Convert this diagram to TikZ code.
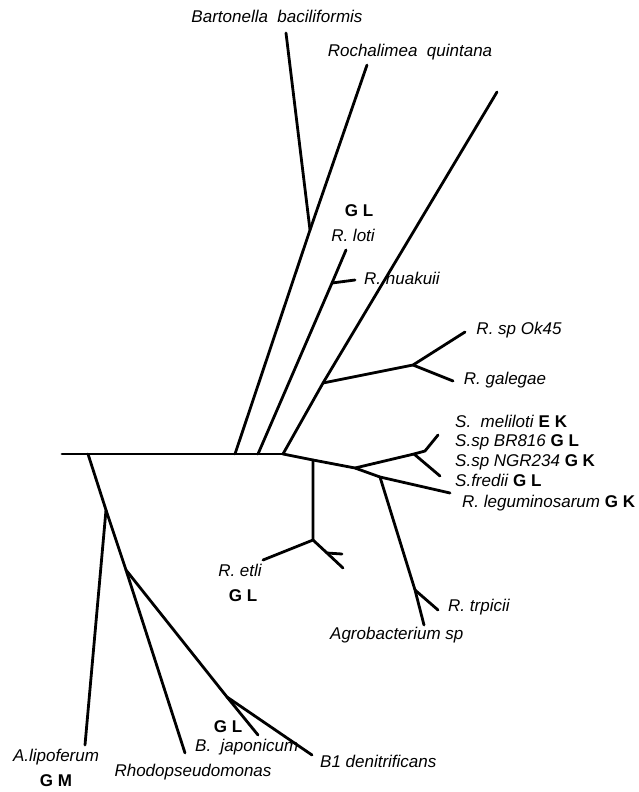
\documentclass[tikz,border=0pt]{standalone}
\usepackage{fontspec}
\setmainfont{Liberation Sans}
\begin{document}
\begin{tikzpicture}[x=1pt,y=-1pt,
  branch/.style={line width=2.8pt,line cap=round,line join=round},
  taxon/.style={font=\fontsize{17}{20}\selectfont\itshape,inner sep=0pt,anchor=mid,yshift=-1.5pt},
  taxonw/.style={taxon,anchor=mid west},
  gene/.style={font=\fontsize{17}{20}\selectfont\bfseries,inner sep=0pt,anchor=mid,yshift=-1.5pt}]
\useasboundingbox (0,0) rectangle (639,792);
\newcommand{\gn}[1]{\textup{\bfseries #1}}

% root axis
\coordinate (r0) at (62,454);
\coordinate (r1) at (88,454);
\coordinate (u1) at (235,454);
\coordinate (u2) at (258,454);
\coordinate (u3) at (283,454);

% lower left clade
\coordinate (n1) at (106,510);
\coordinate (alip) at (85,745);
\coordinate (n2) at (126,570);
\coordinate (rhodo) at (185,753);
\coordinate (n3) at (227,697);
\coordinate (bjap) at (258,735);
\coordinate (b1) at (312,755);

% upper clades
\coordinate (nb) at (310,230);
\coordinate (bart) at (286,33);
\coordinate (roch) at (367,65);
\coordinate (loti) at (346,250);
\coordinate (nh) at (332,283);
\coordinate (huak) at (355,280);
\coordinate (top) at (497,92);
\coordinate (ng) at (323,383);
\coordinate (ngal) at (413,365);
\coordinate (ok) at (465,332);
\coordinate (gal) at (453,381);

% right clades
\coordinate (ne1) at (313,460);
\coordinate (ns) at (355,468);
\coordinate (na) at (380,477);
\coordinate (leg) at (450,493);
\coordinate (nS) at (414,454);
\coordinate (nS2) at (425,451);
\coordinate (mel) at (438,435);
\coordinate (fred) at (440,476);
\coordinate (ne2) at (313,540);
\coordinate (etli) at (263,560);
\coordinate (ne3) at (327,553);
\coordinate (e1) at (343,568);
\coordinate (e2) at (342,554);
\coordinate (nt) at (415,590);
\coordinate (agro) at (424,625);
\coordinate (trp) at (438,610);

% branches
\draw[branch] (r0) -- (r1) -- (u1) -- (u2) -- (u3);
\draw[branch] (r1) -- (n1) -- (n2) -- (n3) -- (b1);
\draw[branch] (n1) -- (alip);
\draw[branch] (n2) -- (rhodo);
\draw[branch] (n3) -- (bjap);
\draw[branch] (u1) -- (nb) -- (bart);
\draw[branch] (nb) -- (roch);
\draw[branch] (u2) -- (nh) -- (loti);
\draw[branch] (nh) -- (huak);
\draw[branch] (u3) -- (ng) -- (top);
\draw[branch] (ng) -- (ngal) -- (ok);
\draw[branch] (ngal) -- (gal);
\draw[branch] (u3) -- (ne1) -- (ns) -- (na) -- (leg);
\draw[branch] (ns) -- (nS) -- (nS2) -- (mel);
\draw[branch] (nS) -- (fred);
\draw[branch] (ne1) -- (ne2) -- (etli);
\draw[branch] (ne2) -- (ne3) -- (e1);
\draw[branch] (ne3) -- (e2);
\draw[branch] (na) -- (nt) -- (agro);
\draw[branch] (nt) -- (trp);

% labels
\node[taxon] (lbart) at (277,18) {Bartonella\ \ baciliformis};
\node[taxon] (lroch) at (410,52) {Rochalimea\ \ quintana};
\node[gene] (glot) at (359,212) {G L};
\node[taxon] (lloti) at (353,237) {R. loti};
\node[taxon] (lhuak) at (402,280) {R. huakuii};
\node[taxon] (lok) at (519,330) {R. sp Ok45};
\node[taxon] (lgal) at (505,380) {R. galegae};
\node[taxonw] (lmel) at (455,423) {S.\ \ meliloti \gn{E K}};
\node[taxonw] (lbr) at (455,442) {S.sp BR816 \gn{G L}};
\node[taxonw] (lngr) at (455,462) {S.sp NGR234 \gn{G K}};
\node[taxonw] (lfred) at (455,482) {S.fredii \gn{G L}};
\node[taxonw] (lleg) at (462,503) {R. leguminosarum \gn{G K}};
\node[taxon] (letli) at (240,572) {R. etli};
\node[gene] (getli) at (243,597) {G L};
\node[taxonw] (ltrp) at (448,607) {R. trpicii};
\node[taxonw] (lagro) at (330,635) {Agrobacterium sp};
\node[taxon] (lalip) at (56,757) {A.lipoferum};
\node[gene] (galip) at (56,782) {G M};
\node[taxon] (lrhodo) at (193,772) {Rhodopseudomonas};
\node[gene] (gbjap) at (228,728) {G L};
\node[taxonw] (lbjap) at (195,747) {B.\ \ japonicum};
\node[taxonw] (lb1) at (320,763) {B1 denitrificans};
\end{tikzpicture}
\end{document}
